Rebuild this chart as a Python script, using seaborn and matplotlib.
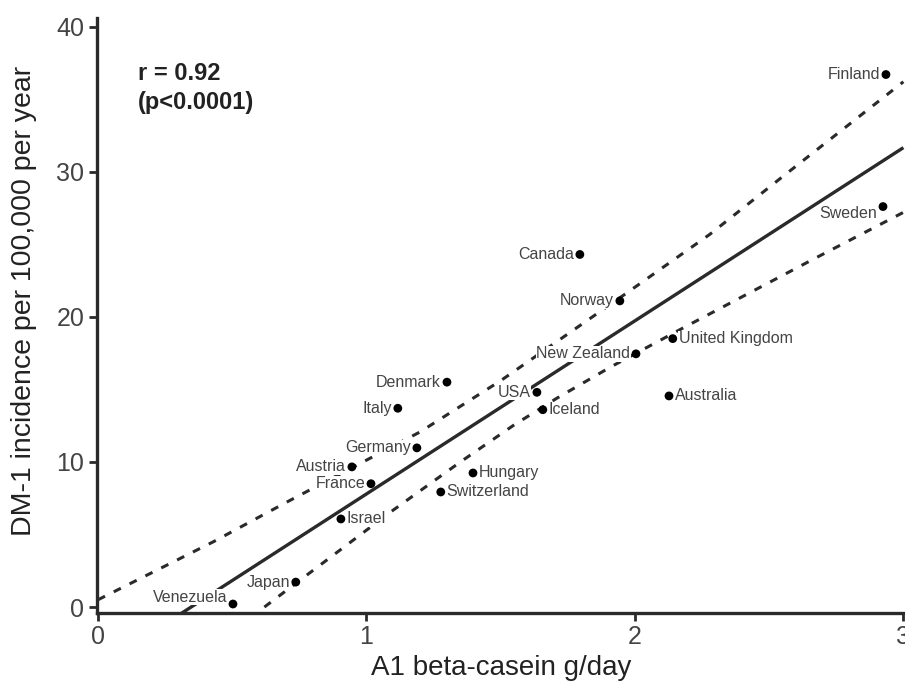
import matplotlib
matplotlib.use("Agg")
import matplotlib.pyplot as plt
import pandas as pd
import seaborn as sns

# values
countries = ["Finland", "Sweden", "Canada", "Norway", "United Kingdom", "New Zealand",
             "Australia", "Denmark", "USA", "Iceland", "Italy", "Germany", "Austria",
             "France", "Hungary", "Switzerland", "Israel", "Japan", "Venezuela"]
casein = [2.935, 2.924, 1.795, 1.944, 2.141, 2.004, 2.127, 1.300, 1.635, 1.657,
          1.117, 1.188, 0.946, 1.017, 1.397, 1.277, 0.905, 0.737, 0.503]
incidence = [36.7, 27.6, 24.3, 21.1, 18.5, 17.45, 14.55, 15.5, 14.8, 13.6,
             13.7, 10.97, 9.66, 8.5, 9.24, 7.93, 6.07, 1.72, 0.21]
label_side = ["left", "left", "left", "left", "right", "left", "right", "left", "left", "right",
              "left", "left", "left", "left", "right", "right", "right", "left", "left"]

fit_x = [0.25, 3.0]
fit_y = [-1.16, 31.66]
upper_x = [0.0, 0.43, 0.7, 1.2, 1.5, 1.97, 2.28, 2.55, 3.0]
upper_y = [0.5, 4.5, 7.2, 12.07, 15.6, 21.65, 25.7, 29.66, 36.2]
lower_x = [0.62, 1.09, 1.35, 1.55, 1.71, 1.91, 2.18, 2.66, 3.0]
lower_y = [0.0, 6.55, 10.0, 12.55, 14.4, 16.55, 19.24, 23.93, 27.2]

x_ticks = [0, 1, 2, 3]
y_ticks = [0, 10, 20, 30, 40]


def main():
    sns.set_style("ticks")
    plt.rcParams["font.family"] = ["Liberation Sans", "DejaVu Sans"]
    data = pd.DataFrame({"country": countries, "casein": casein, "incidence": incidence, "side": label_side})

    fig = plt.figure(figsize=(9.05, 6.9), dpi=100)
    ax = fig.add_axes([0.107, 0.1116, 0.893, 0.8624])

    ax.plot(fit_x, fit_y, color="#2a2a2a", lw=2.4, solid_capstyle="butt", zorder=2)
    for xs, ys in [(upper_x, upper_y), (lower_x, lower_y)]:
        ax.plot(xs, ys, color="#2a2a2a", lw=2.2, dashes=(2.6, 3.2), zorder=2)

    sns.scatterplot(data=data, x="casein", y="incidence", color="black", s=40,
                    edgecolor="none", ax=ax, zorder=5, legend=False)

    for _, row in data.iterrows():
        right = row["side"] == "right"
        dx = 0.022 if right else -0.022
        dy = 0.0
        if row["country"] == "Sweden":
            dy = -0.45
        if row["country"] == "Venezuela":
            dy = 0.45
        ax.text(row["casein"] + dx, row["incidence"] + dy, row["country"],
                ha="left" if right else "right", va="center", fontsize=11.5, color="#444444",
                bbox=dict(facecolor="white", edgecolor="none", pad=0.3), zorder=4)

    ax.text(0.15, 36.8, "r = 0.92", fontsize=17, fontweight="bold", color="#222222", va="center")
    ax.text(0.15, 34.8, "(p<0.0001)", fontsize=17, fontweight="bold", color="#222222", va="center")

    ax.set_xlim(-0.004, 3.006)
    ax.set_ylim(-0.41, 40.6)
    ax.set_xticks(x_ticks)
    ax.set_yticks(y_ticks)
    ax.set_xlabel("A1 beta-casein g/day", fontsize=20, color="#222222", labelpad=4)
    ax.set_ylabel("DM-1 incidence per 100,000 per year", fontsize=20.5, color="#222222")
    ax.yaxis.set_label_coords(-0.074, 0.525)
    ax.tick_params(labelsize=18, labelcolor="#444444", color="#2a2a2a", width=2, length=6, pad=3)
    sns.despine(ax=ax)
    for side in ["left", "bottom"]:
        ax.spines[side].set_linewidth(2.4)
        ax.spines[side].set_color("#2a2a2a")

    fig.savefig("out.png", dpi=100)
    plt.close(fig)


if __name__ == "__main__":
    main()
